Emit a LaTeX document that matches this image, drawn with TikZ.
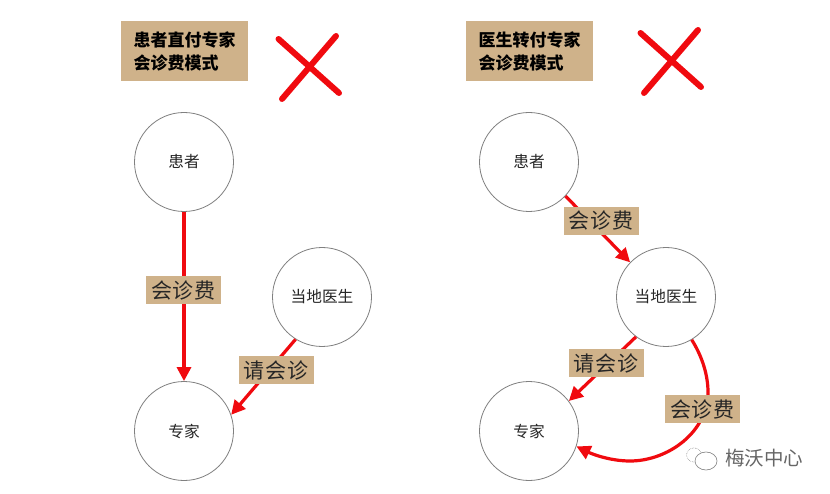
\documentclass[tikz,border=0pt]{standalone}
\usepackage{fontspec}
\usetikzlibrary{arrows.meta}
\newfontfamily\cjk{Noto Sans CJK SC}
\newfontfamily\cjklabel[LetterSpace=4]{Noto Sans CJK SC}
\definecolor{tan1}{HTML}{CFB28A}
\definecolor{redline}{HTML}{F00A0F}
\tikzset{
  every node/.style={font=\cjk},
  person/.style={circle,draw=black!50,line width=0.8pt,fill=white,minimum size=99pt,inner sep=0pt,font=\cjk\fontsize{15.7}{18}\selectfont,text=black!85},
  tag/.style={fill=tan1,minimum width=75pt,minimum height=28pt,inner sep=0pt,font=\cjklabel\fontsize{21}{24}\selectfont,text=black!85},
  headbox/.style={fill=tan1,minimum width=127pt,minimum height=60pt,inner sep=0pt,align=left,font=\cjk\bfseries\fontsize{17}{23}\selectfont,text=black},
  flow/.style={draw=redline,line width=3.2pt,-{Triangle[length=14pt,width=14pt,fill=redline]}},
  cross/.style={draw=redline,line width=6pt,line cap=round}
}
\begin{document}
\begin{tikzpicture}[x=1pt,y=-1pt]
\useasboundingbox (0,0) rectangle (830,494);
\fill[white] (0,0) rectangle (830,494);
% left panel
\node[headbox] (h1) at (184.5,51) {患者直付专家\\会诊费模式};
\coordinate (x1a) at (278.5,39); \coordinate (x1b) at (339,93);
\coordinate (x1c) at (282,99); \coordinate (x1d) at (336,36);
\draw[cross] (x1a) -- (x1b); \draw[cross] (x1c) -- (x1d);
\node[person] (p1) at (184,162) {\raisebox{-1.5pt}{患者}};
\node[person] (d1) at (322,297) {\raisebox{-1.5pt}{当地医生}};
\node[person] (e1) at (184,431) {\raisebox{-1.5pt}{专家}};
\draw[flow] (p1) -- (e1);
\draw[flow] (d1.238) -- (e1.19);
\node[tag] (t1) at (183.5,290) {会诊费};
\node[tag] (t2) at (276,370) {请会诊};
% right panel
\node[headbox] (h2) at (529.5,51) {医生转付专家\\会诊费模式};
\coordinate (x2a) at (640.5,33); \coordinate (x2b) at (701,87);
\coordinate (x2c) at (644,93); \coordinate (x2d) at (698,30);
\draw[cross] (x2a) -- (x2b); \draw[cross] (x2c) -- (x2d);
\node[person] (p2) at (529,162) {\raisebox{-1.5pt}{患者}};
\node[person] (d2) at (666,297) {\raisebox{-1.5pt}{当地医生}};
\node[person] (e2) at (529,431) {\raisebox{-1.5pt}{专家}};
\draw[flow] (p2.-43) -- (d2.136);
\draw[flow] (d2.233) -- (e2.37);
\coordinate (c1) at (708,392);
\coordinate (c2) at (630,461);
\draw[flow] (d2.-59) .. controls (702,356) and (708,375) .. (c1)
  .. controls (708,432) and (668,461) .. (c2)
  .. controls (610,461) and (592,454) .. (e2.-18);
\node[tag] (t3) at (601,221) {会诊费};
\node[tag] (t4) at (606,363) {请会诊};
\node[tag] (t5) at (702.5,409) {会诊费};
% watermark
\node[font=\cjk\fontsize{19.5}{22}\selectfont,text=black!60] (w) at (764,458) {梅沃中心};
\coordinate (wa) at (694,455); \coordinate (wb) at (706,461);
\draw[black!45,line width=0.6pt,densely dotted] (wa) ellipse (7.5pt and 7pt);
\draw[black!50,line width=0.6pt,fill=white] (wb) ellipse (11pt and 9pt);
\end{tikzpicture}
\end{document}
